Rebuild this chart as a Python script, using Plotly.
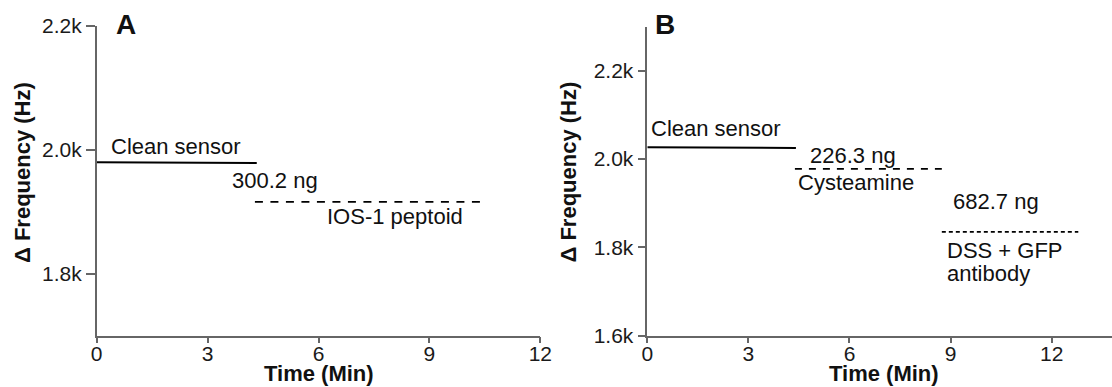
import plotly.graph_objects as go

# Panel A: clean sensor -> IOS-1 peptoid immobilisation
time_a_clean = [0, 3.29, 4.33]
freq_a_clean = [1980, 1980, 1979]
time_a_peptoid = [4.28, 10.55]
freq_a_peptoid = [1916, 1916]

# Panel B: clean sensor -> cysteamine -> DSS + GFP antibody
time_b_clean = [0, 2.45, 4.41]
freq_b_clean = [2027, 2026, 2025]
time_b_cys = [4.38, 8.74]
freq_b_cys = [1978, 1978]
time_b_dss = [8.74, 12.79]
freq_b_dss = [1835, 1835]

# Tick values / labels
x_ticks = [0, 3, 6, 9, 12]
x_tick_text = ["0", "3", "6", "9", "12"]
y_ticks_a = [1800, 2000, 2200]
y_tick_text_a = ["1.8k", "2.0k", "2.2k"]
y_ticks_b = [1600, 1800, 2000, 2200]
y_tick_text_b = ["1.6k", "1.8k", "2.0k", "2.2k"]

W, H = 1112, 387
FONT = "Arial, Liberation Sans, sans-serif"
AXIS_GREY = "#666666"


def px_x(p):
    return p / W


def px_y(p):
    return 1 - p / H


fig = go.Figure()

fig.add_trace(go.Scatter(x=time_a_clean, y=freq_a_clean, mode="lines",
                         line=dict(color="black", width=2),
                         xaxis="x", yaxis="y", showlegend=False))
fig.add_trace(go.Scatter(x=time_a_peptoid, y=freq_a_peptoid, mode="lines",
                         line=dict(color="black", width=1.8, dash="8px,7.5px"),
                         xaxis="x", yaxis="y", showlegend=False))
fig.add_trace(go.Scatter(x=time_b_clean, y=freq_b_clean, mode="lines",
                         line=dict(color="black", width=2),
                         xaxis="x2", yaxis="y2", showlegend=False))
fig.add_trace(go.Scatter(x=time_b_cys, y=freq_b_cys, mode="lines",
                         line=dict(color="black", width=1.8, dash="7px,7px"),
                         xaxis="x2", yaxis="y2", showlegend=False))
fig.add_trace(go.Scatter(x=time_b_dss, y=freq_b_dss, mode="lines",
                         line=dict(color="black", width=1.8, dash="4px,3px"),
                         xaxis="x2", yaxis="y2", showlegend=False))

tick_font = dict(family=FONT, size=21, color="#1a1a1a")
common_axis = dict(showline=True, linecolor=AXIS_GREY, linewidth=1.5,
                   ticks="outside", tickcolor=AXIS_GREY, tickwidth=1.5,
                   showgrid=False, zeroline=False, tickfont=tick_font,
                   automargin=False, fixedrange=True)

y_dom = [px_y(335.7), px_y(26)]
y_dom_b = [px_y(335.7), px_y(26.65)]

fig.update_layout(
    template="none",
    width=W, height=H,
    margin=dict(l=0, r=0, t=0, b=0, autoexpand=False),
    paper_bgcolor="white", plot_bgcolor="white",
    xaxis=dict(domain=[px_x(96.7), px_x(540.3)], range=[0, 12],
               tickvals=x_ticks, ticktext=x_tick_text, ticklen=6,
               ticklabelstandoff=-8, anchor="y", **common_axis),
    yaxis=dict(domain=y_dom, range=[1700, 2200],
               tickvals=y_ticks_a, ticktext=y_tick_text_a, ticklen=9,
               anchor="x", **common_axis),
    xaxis2=dict(domain=[px_x(647.3), 1.0], range=[0, 13.79],
                tickvals=x_ticks, ticktext=x_tick_text, ticklen=6,
                ticklabelstandoff=-8, anchor="y2", **common_axis),
    yaxis2=dict(domain=y_dom_b, range=[1600, 2300],
                tickvals=y_ticks_b, ticktext=y_tick_text_b, ticklen=8,
                anchor="x2", **common_axis),
)

label_font = dict(family=FONT, size=22, color="#111111")
title_font = dict(family=FONT, size=22, color="#111111")
panel_font = dict(family=FONT, size=28, color="#111111")

annotations = [
    # Panel A labels
    dict(x=0.34, y=2005, xref="x", yref="y", text="Clean sensor"),
    dict(x=3.61, y=1950, xref="x", yref="y", text="300.2 ng"),
    dict(x=6.18, y=1892, xref="x", yref="y", text="IOS-1 peptoid"),
    # Panel B labels
    dict(x=0.06, y=2069, xref="x2", yref="y2", text="Clean sensor"),
    dict(x=4.78, y=2008, xref="x2", yref="y2", text="226.3 ng"),
    dict(x=4.41, y=1948, xref="x2", yref="y2", text="Cysteamine"),
    dict(x=9.0, y=1903, xref="x2", yref="y2", text="682.7 ng"),
    dict(x=8.83, y=1793, xref="x2", yref="y2", text="DSS + GFP"),
    dict(x=8.83, y=1742, xref="x2", yref="y2", text="antibody"),
]
for a in annotations:
    a.update(showarrow=False, xanchor="left", yanchor="middle", font=label_font)

# Panel letters
annotations += [
    dict(x=px_x(125.8), y=px_y(25), xref="paper", yref="paper", text="<b>A</b>",
         showarrow=False, xanchor="center", yanchor="middle", font=panel_font),
    dict(x=px_x(665), y=px_y(24.5), xref="paper", yref="paper", text="<b>B</b>",
         showarrow=False, xanchor="center", yanchor="middle", font=panel_font),
]

# Axis titles
for xc, yc in [(22.5, 172.5), (568, 172.5)]:
    annotations.append(dict(x=px_x(xc), y=px_y(yc), xref="paper", yref="paper",
                            text="<b>\u0394 Frequency (Hz)</b>", textangle=-90,
                            showarrow=False, xanchor="center", yanchor="middle",
                            font=title_font))
for xc in [319, 884]:
    annotations.append(dict(x=px_x(xc), y=px_y(388), xref="paper", yref="paper",
                            text="<b>Time (Min)</b>", showarrow=False,
                            xanchor="center", yanchor="bottom",
                            font=title_font))

fig.update_layout(annotations=annotations)

fig.write_html("out.html")
